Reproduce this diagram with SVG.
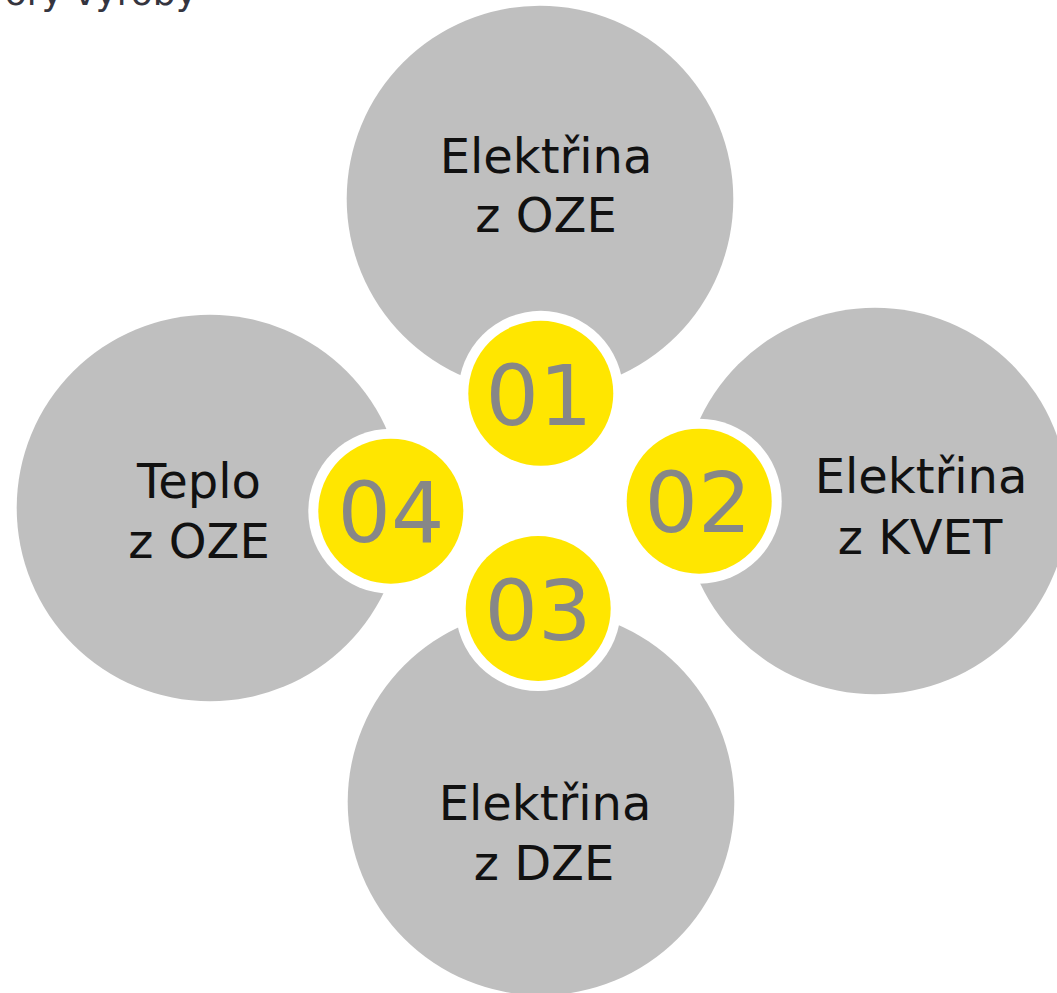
<svg xmlns="http://www.w3.org/2000/svg" width="1057" height="993" viewBox="0 0 1057 993">
<style>
.big{fill:#bfbfbf}
.ring{fill:#ffffff}
.dot{fill:#ffe600}
.lbl{font-family:"DejaVu Sans","Liberation Sans",sans-serif;font-size:48px;fill:#111111;text-anchor:middle}
.num{font-family:"DejaVu Sans","Liberation Sans",sans-serif;font-size:84px;fill:#878787;text-anchor:middle}
.ttl{font-family:"DejaVu Sans","Liberation Sans",sans-serif;font-size:36px;fill:#35353f;text-anchor:end}
</style>
<rect width="1057" height="993" fill="#ffffff"/>
<text class="ttl" x="197" y="5">ory výroby</text>
<g id="connectors"/>
<g id="node-top">
<circle class="big" cx="540" cy="199" r="193.3"/>
<text class="lbl" x="546" y="173">Elektřina</text>
<text class="lbl" x="546" y="232">z OZE</text>
</g>
<g id="node-right">
<circle class="big" cx="875" cy="501" r="193.3"/>
<text class="lbl" x="921" y="493">Elektřina</text>
<text class="lbl" x="920" y="554">z KVET</text>
</g>
<g id="node-bottom">
<circle class="big" cx="541" cy="802" r="193.3"/>
<text class="lbl" x="545" y="820">Elektřina</text>
<text class="lbl" x="544" y="880">z DZE</text>
</g>
<g id="node-left">
<circle class="big" cx="210" cy="508" r="193.3"/>
<text class="lbl" x="199" y="498">Teplo</text>
<text class="lbl" x="199" y="558">z OZE</text>
</g>
<g id="badge-01">
<circle class="ring" cx="540.8" cy="393.3" r="82.5"/>
<circle class="dot" cx="540.8" cy="393.3" r="72.5"/>
<text class="num" x="539" y="425">01</text>
</g>
<g id="badge-02">
<circle class="ring" cx="699.2" cy="501.2" r="82.5"/>
<circle class="dot" cx="699.2" cy="501.2" r="72.5"/>
<text class="num" x="698" y="532">02</text>
</g>
<g id="badge-03">
<circle class="ring" cx="538.2" cy="608.5" r="82.5"/>
<circle class="dot" cx="538.2" cy="608.5" r="72.5"/>
<text class="num" x="538" y="640">03</text>
</g>
<g id="badge-04">
<circle class="ring" cx="390.8" cy="511.2" r="82.5"/>
<circle class="dot" cx="390.8" cy="511.2" r="72.5"/>
<text class="num" x="391" y="542">04</text>
</g>
</svg>
